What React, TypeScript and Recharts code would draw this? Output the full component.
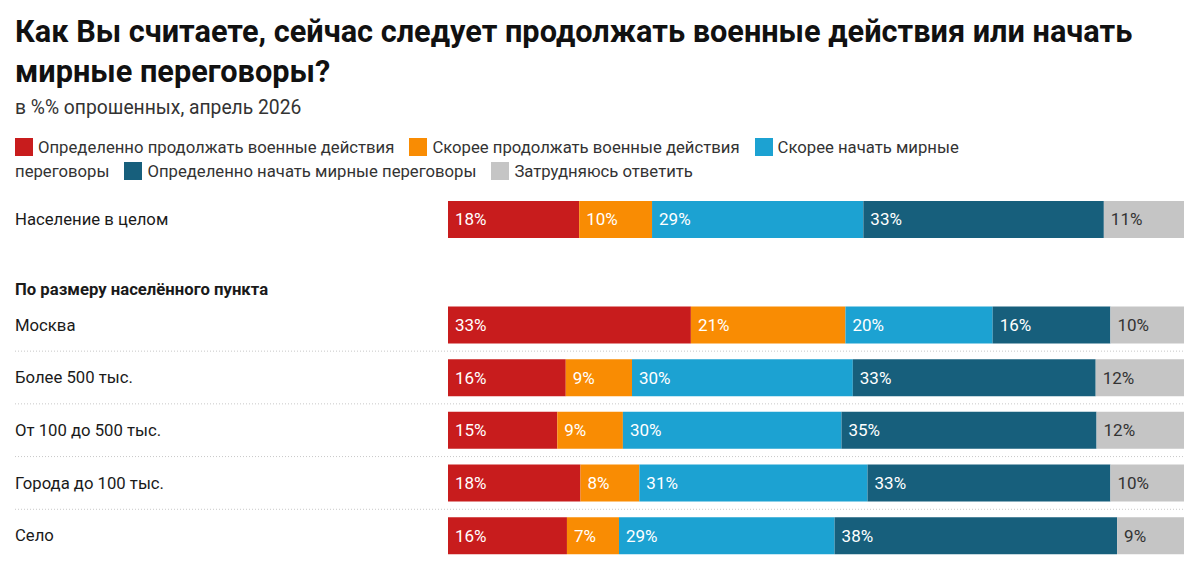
import { BarChart, Bar, XAxis, YAxis, LabelList } from 'recharts'

const categories = [
  'Население в целом',
  'По размеру населённого пункта',
  'Москва',
  'Более 500 тыс.',
  'От 100 до 500 тыс.',
  'Города до 100 тыс.',
  'Село',
]

const definitelyContinue = [18, null, 33, 16, 15, 18, 16]
const ratherContinue = [10, null, 21, 9, 9, 8, 7]
const ratherPeace = [29, null, 20, 30, 30, 31, 29]
const definitelyPeace = [33, null, 16, 33, 35, 33, 38]
const hardToSay = [11, null, 10, 12, 12, 10, 9]

const headerRow = 'По размеру населённого пункта'

const series = [
  { key: 'dc', name: 'Определенно продолжать военные действия', color: '#c81c1d', text: '#ffffff', values: definitelyContinue },
  { key: 'rc', name: 'Скорее продолжать военные действия', color: '#f98c03', text: '#ffffff', values: ratherContinue },
  { key: 'rp', name: 'Скорее начать мирные переговоры', color: '#1ca2d2', text: '#ffffff', values: ratherPeace },
  { key: 'dp', name: 'Определенно начать мирные переговоры', color: '#175f7c', text: '#ffffff', values: definitelyPeace },
  { key: 'hs', name: 'Затрудняюсь ответить', color: '#c5c5c5', text: '#333333', values: hardToSay },
]

const data = categories.map((name, i) => {
  const row: Record<string, string | number | null> = { name }
  series.forEach((s) => {
    row[s.key] = s.values[i]
  })
  return row
})

const FONT = 'Roboto, "Noto Sans", sans-serif'
const CHART_W = 1200
const CHART_TOP = 180
const CHART_H = 387
const MARGIN = { top: 13, right: 16, bottom: 5, left: 0 }
const BAND = (CHART_H - MARGIN.top - MARGIN.bottom) / categories.length

function RowTick(props: any) {
  const { y, payload } = props
  const label = payload.value as string
  const idx = categories.indexOf(label)
  const isHeader = label === headerRow
  return (
    <g>
      {idx >= 3 && (
        <line
          x1={15}
          x2={1184}
          y1={y - BAND / 2}
          y2={y - BAND / 2}
          stroke="#c8c8c8"
          strokeWidth={1}
          strokeDasharray="1 2"
        />
      )}
      <text
        x={15}
        y={isHeader ? y + 17 : y}
        dy="0.35em"
        textAnchor="start"
        fontSize={16.7}
        fontWeight={isHeader ? 700 : 400}
        fill="#1a1a1a"
        fontFamily={FONT}
      >
        {label}
      </text>
    </g>
  )
}

function makeLabel(color: string) {
  return function SegmentLabel(props: any) {
    const { x, y, height, value } = props
    if (value === null || value === undefined) return null
    return (
      <text
        x={Number(x) + 7}
        y={Number(y) + Number(height) / 2}
        dy="0.35em"
        fontSize={17}
        fill={color}
        fontFamily={FONT}
      >
        {value}%
      </text>
    )
  }
}

export default function App() {
  return (
    <div
      style={{
        position: 'absolute',
        left: 0,
        top: 0,
        width: 1200,
        height: 567,
        background: '#ffffff',
        fontFamily: FONT,
        overflow: 'hidden',
      }}
    >
      <div style={{ position: 'absolute', left: 0, top: CHART_TOP }}>
        <BarChart
          width={CHART_W}
          height={CHART_H}
          data={data}
          layout="vertical"
          stackOffset="expand"
          margin={MARGIN}
        >
          <XAxis type="number" hide domain={[0, 1]} />
          <YAxis
            type="category"
            dataKey="name"
            width={448}
            axisLine={false}
            tickLine={false}
            tick={<RowTick />}
            interval={0}
          />
          {series.map((s) => (
            <Bar
              key={s.key}
              dataKey={s.key}
              name={s.name}
              stackId="a"
              fill={s.color}
              barSize={37}
              isAnimationActive={false}
            >
              <LabelList dataKey={s.key} content={makeLabel(s.text)} />
            </Bar>
          ))}
        </BarChart>
      </div>

      <div
        style={{
          position: 'absolute',
          left: 15,
          top: 12,
          fontSize: 30.7,
          fontWeight: 700,
          lineHeight: '40px',
          color: '#111',
          whiteSpace: 'nowrap',
        }}
      >
        Как Вы считаете, сейчас следует продолжать военные действия или начать
        <br />
        мирные переговоры?
      </div>

      <div
        style={{
          position: 'absolute',
          left: 15,
          top: 96,
          fontSize: 19.3,
          lineHeight: '24px',
          color: '#333',
        }}
      >
        в %% опрошенных, апрель 2026
      </div>

      <div
        style={{
          position: 'absolute',
          left: 15,
          top: 136,
          width: 1000,
          fontSize: 16.7,
          lineHeight: '24px',
          color: '#333',
        }}
      >
        {series.map((s) => (
          <span key={s.key} style={{ marginRight: 15 }}>
            <span
              style={{
                display: 'inline-block',
                width: 18,
                height: 18,
                background: s.color,
                verticalAlign: '-3px',
                marginRight: 5,
              }}
            />
            {s.name}
          </span>
        ))}
      </div>
    </div>
  )
}
